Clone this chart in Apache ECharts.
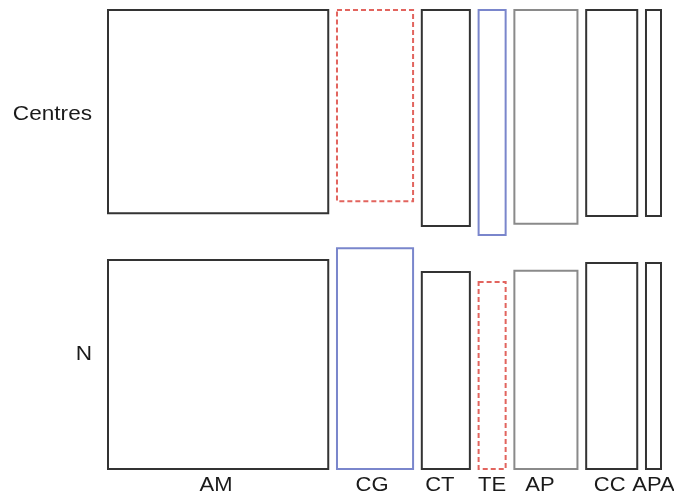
<!DOCTYPE html>
<html><head><meta charset="utf-8">
<script src="https://cdn.jsdelivr.net/npm/echarts@6/dist/echarts.min.js"></script>
<style>html,body{margin:0;padding:0;background:#fff}#c{width:674px;height:495px}</style>
</head><body><div id="c"></div>
<script>
// ---- data ----
const categories = ['AM', 'CG', 'CT', 'TE', 'AP', 'CC', 'APA'];
const rowLabels = ['Centres', 'N'];
const columnTotals = [220, 76, 48, 27, 63, 51, 15];
const centresShare = [0.493, 0.464, 0.524, 0.546, 0.519, 0.500, 0.500];
const nShare = [0.507, 0.536, 0.478, 0.454, 0.481, 0.500, 0.500];

// ---- styling (kept apart from data) ----
const GAP_X = 8.73;   // horizontal gap between columns, in axis units
const GAP_Y = 0.114;  // vertical gap between the two rows, in axis units
const styles = {
  dark:  { stroke: '#333333', lineWidth: 2, lineDash: null },
  light: { stroke: '#8a8a8a', lineWidth: 2, lineDash: null },
  pos:   { stroke: '#7a86cc', lineWidth: 2, lineDash: null },
  neg:   { stroke: '#e2645e', lineWidth: 2, lineDash: [5, 3] }
};
const topStyle = ['dark', 'neg', 'dark', 'pos', 'light', 'dark', 'dark'];
const botStyle = ['dark', 'pos', 'dark', 'neg', 'light', 'dark', 'dark'];
const labelShift = [-2, -3, -6, 0, -6, -2, 0]; // small label nudges in px
const TEXT_SCALE = 1.1;

const xMax = columnTotals.reduce((a, b) => a + b, 0) + GAP_X * (columnTotals.length - 1);
const FONT = '20px "Liberation Sans", Arial, sans-serif';
const TEXT_COLOR = '#1a1a1a';

const chart = echarts.init(document.getElementById('c'));
chart.setOption({
  backgroundColor: '#ffffff',
  animation: false,
  grid: { left: 108, right: 13, top: 10, bottom: 26 },
  xAxis: { type: 'value', min: 0, max: xMax, show: false },
  yAxis: { type: 'value', min: 0, max: 1 + GAP_Y, show: false },
  graphic: [
    { type: 'text', x: 92, y: 114, scaleX: 1.13,
      style: { text: rowLabels[0], font: FONT, fill: TEXT_COLOR, align: 'right', verticalAlign: 'middle' } },
    { type: 'text', x: 92, y: 354, scaleX: 1.13,
      style: { text: rowLabels[1], font: FONT, fill: TEXT_COLOR, align: 'right', verticalAlign: 'middle' } }
  ],
  series: [{
    type: 'custom',
    clip: false,
    data: categories.map((c, i) => [i]),
    renderItem: function (params, api) {
      const i = api.value(0);
      let x0 = GAP_X * i;
      for (let k = 0; k < i; k++) x0 += columnTotals[k];
      const x1 = x0 + columnTotals[i];
      // bottom row (N): from 0 up to nShare
      const bA = api.coord([x0, nShare[i]]);
      const bB = api.coord([x1, 0]);
      // top row (Centres): from top down by centresShare
      const tA = api.coord([x0, 1 + GAP_Y]);
      const tB = api.coord([x1, 1 + GAP_Y - centresShare[i]]);
      const ts = styles[topStyle[i]], bs = styles[botStyle[i]];
      return {
        type: 'group',
        children: [
          { type: 'rect',
            shape: { x: tA[0], y: tA[1], width: tB[0] - tA[0], height: tB[1] - tA[1] },
            style: { fill: 'transparent', stroke: ts.stroke, lineWidth: ts.lineWidth, lineDash: ts.lineDash } },
          { type: 'rect',
            shape: { x: bA[0], y: bA[1], width: bB[0] - bA[0], height: bB[1] - bA[1] },
            style: { fill: 'transparent', stroke: bs.stroke, lineWidth: bs.lineWidth, lineDash: bs.lineDash } },
          { type: 'text',
            x: (bA[0] + bB[0]) / 2 + labelShift[i], y: bB[1] + 16, scaleX: TEXT_SCALE,
            style: { text: categories[i], x: 0, y: 0,
                     align: 'center', verticalAlign: 'middle', font: FONT, fill: TEXT_COLOR } }
        ]
      };
    }
  }]
});
</script>
</body></html>
